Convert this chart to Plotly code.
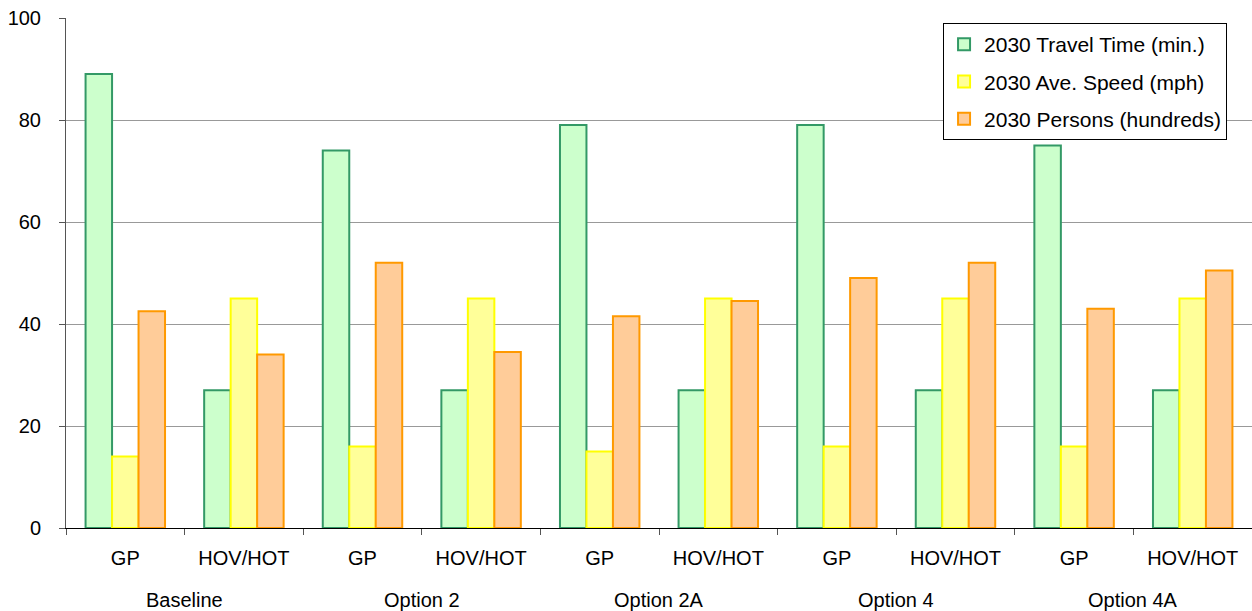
import plotly.graph_objects as go

groups = ["Baseline", "Option 2", "Option 2A", "Option 4", "Option 4A"]
lanes = ["GP", "HOV/HOT"] * 5

travel_time = [89, 27, 74, 27, 79, 27, 79, 27, 75, 27]
ave_speed = [14, 45, 16, 45, 15, 45, 16, 45, 16, 45]
persons = [42.5, 34, 52, 34.5, 41.5, 44.5, 49, 52, 43, 50.5]

series = [
    ("2030 Travel Time (min.)", travel_time, "#CCFFCC", "#339966"),
    ("2030 Ave. Speed (mph)", ave_speed, "#FFFF99", "#FFFF00"),
    ("2030 Persons (hundreds)", persons, "#FFCC99", "#FF9900"),
]

xpos = list(range(len(lanes)))

fig = go.Figure()
for i, (name, vals, fill, line) in enumerate(series):
    fig.add_trace(go.Bar(
        x=xpos, y=vals, name=name, legendgroup=f"g{i}",
        marker=dict(color=fill, line=dict(color=line, width=2)),
    ))

font = "Liberation Sans, Arial, sans-serif"
fs = 20

for gi, g in enumerate(groups):
    fig.add_annotation(
        x=2 * gi + 0.5, y=-0.141, xref="x", yref="paper",
        text=g, showarrow=False, xanchor="center", yanchor="middle",
        font=dict(family=font, size=fs, color="black"),
    )

fig.update_layout(
    width=1252, height=611,
    margin=dict(l=66, r=0, t=18, b=83),
    paper_bgcolor="white", plot_bgcolor="white",
    barmode="group", bargap=0.33, bargroupgap=0,
    font=dict(family=font, size=fs, color="black"),
    showlegend=True,
    legend=dict(
        x=0.7395, y=0.99, xanchor="left", yanchor="top",
        bgcolor="white", bordercolor="black", borderwidth=1,
        font=dict(family=font, size=21, color="black"),
        tracegroupgap=7, traceorder="grouped",
    ),
    xaxis=dict(
        range=[-0.5, 9.5], automargin=False,
        tickmode="array", tickvals=xpos, ticktext=lanes, ticks="",
        showline=True, linecolor="black", linewidth=1,
        showgrid=False, zeroline=False,
        ticklabelstandoff=12,
        minor=dict(tickmode="linear", tick0=-0.5, dtick=1, ticks="outside",
                   ticklen=6, tickcolor="#555555", showgrid=False),
        tickfont=dict(family=font, size=fs, color="black"),
    ),
    yaxis=dict(
        range=[0, 100], tickvals=[0, 20, 40, 60, 80, 100], automargin=False,
        showline=True, linecolor="#555555", linewidth=1,
        ticks="outside", ticklen=6, tickcolor="#555555",
        showgrid=True, gridcolor="#999999", gridwidth=1,
        zeroline=False, ticklabelstandoff=14,
        tickfont=dict(family=font, size=fs, color="black"),
    ),
)

fig.write_html("out.html", config={"displayModeBar": False},
               post_script="document.body.style.margin='0';")
